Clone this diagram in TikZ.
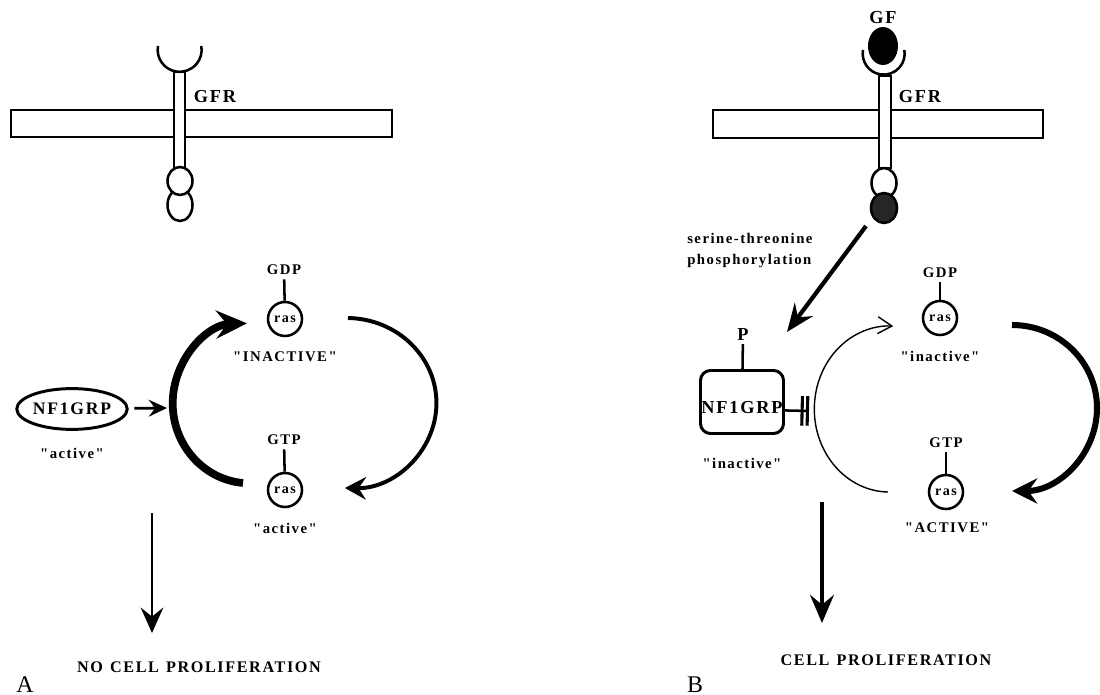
\documentclass[tikz,border=0pt]{standalone}
\usepackage{fontspec}
\setmainfont{Liberation Serif}
\newfontfamily\lblfont{Liberation Serif}[LetterSpace=10]
\usetikzlibrary{arrows.meta,shapes.geometric}

\begin{document}
\begin{tikzpicture}[
  x=0.025cm, y=-0.025cm,
  lbl/.style={font=\lblfont\bfseries\fontsize{10.5}{11}\selectfont, inner sep=0pt},
  big/.style={font=\lblfont\bfseries\fontsize{13}{14}\selectfont, inner sep=0pt},
  res/.style={font=\lblfont\bfseries\fontsize{11.5}{12}\selectfont, inner sep=0pt},
  panel/.style={font=\fontsize{17}{18}\selectfont, inner sep=0pt},
  ras/.style={circle, draw, line width=1.8pt, minimum size=0.85cm, inner sep=0pt,
    font=\lblfont\bfseries\fontsize{10}{11}\selectfont},
  memb/.style={draw, fill=white, line width=1.8pt},
  stem/.style={draw, fill=white, line width=1.6pt},
  stub/.style={line width=1.8pt, shorten <=3pt},
  tipS/.style 2 args={-{Stealth[length=#1, width=#2, inset=0.35*#1]}}
]
\useasboundingbox (0,0) rectangle (1100,695);

% ---------------- A ----------------
\draw[memb] (11,110) rectangle (392,137);
\draw[stem] (174,72) rectangle (185,168);
\draw[line width=1.8pt] (158,46) arc[start angle=190, end angle=-10, radius=22];
\draw[line width=1.8pt, fill=white] (180,205) ellipse[x radius=12.5, y radius=16];
\draw[line width=1.8pt, fill=white] (180,181) ellipse[x radius=12.5, y radius=14];
\node[big] (gfrA) at (215,97) {GFR};

\node[lbl] (gdpA) at (284,270) {GDP};
\node[ras] (rasIA) at (285,319) {ras};
\node[lbl] (inA) at (285,357) {"INACTIVE"};
\node[lbl] (gtpA) at (284,440) {GTP};
\node[ras] (rasAA) at (285,490) {ras};
\node[lbl] (acA) at (285,528) {"active"};
\draw[stub] (gdpA) -- (rasIA);
\draw[stub] (gtpA) -- (rasAA);

\node[ellipse, draw, line width=2.1pt, minimum width=2.75cm, minimum height=1.02cm,
  inner sep=0pt, font=\lblfont\bfseries\fontsize{12.5}{13}\selectfont] (nfA) at (72,409) {NF1GRP};
\node[lbl] (nfAl) at (72,453) {"active"};
\coordinate (gapA) at (167,408);
\draw[line width=2pt, tipS={13pt}{12pt}, shorten <=4pt] (nfA) -- (gapA);

\coordinate (c1A) at (243,483);
\coordinate (c2A) at (348,318);
\draw[line width=5.5pt, tipS={22pt}{20pt}] (c1A) arc[start angle=95, end angle=268, x radius=77, y radius=80];
\draw[line width=2.8pt, tipS={15pt}{16pt}] (c2A) arc[start angle=-89, end angle=91, x radius=90, y radius=85];

\coordinate (dA1) at (152,513);
\coordinate (dA2) at (152,633);
\draw[line width=2pt, tipS={18pt}{16pt}] (dA1) -- (dA2);
\node[res] (resA) at (199,667) {NO\hspace{5pt}CELL\hspace{5pt}PROLIFERATION};
\node[panel, anchor=base] (pA) at (25,692) {A};

% ---------------- B ----------------
\draw[memb] (713,110) rectangle (1043,138);
\draw[stem] (879,76) rectangle (891,168);
\fill (883,46) ellipse[x radius=15, y radius=19];
\draw[line width=1.8pt] (863,50) arc[start angle=190, end angle=-10, radius=21];
\draw[line width=1.8pt, fill=white] (884,183) ellipse[x radius=12.5, y radius=15];
\draw[line width=1.8pt, fill=black!85] (884,208) ellipse[x radius=13, y radius=15];
\node[big] (gfB) at (883,18) {GF};
\node[big] (gfrB) at (920,97) {GFR};

\node[lbl, align=left, anchor=north west, font=\lblfont\bfseries\fontsize{10.5}{15}\selectfont]
  (phos) at (687,233) {serine-threonine\\phosphorylation};
\coordinate (kin) at (866,226);
\coordinate (kinT) at (787,332);
\draw[line width=3pt, tipS={20pt}{16pt}] (kin) -- (kinT);

\node[big] (pB) at (743,335) {P};
\node[draw, rounded corners=0.25cm, line width=2.1pt, minimum width=2.075cm, minimum height=1.575cm,
  inner sep=0pt] (nfB) at (742,402) {};
\node[font=\lblfont\bfseries\fontsize{13}{14}\selectfont, inner sep=0pt] (nfBt) at (742,408) {NF1GRP};
\node[lbl] (nfBl) at (742,463) {"inactive"};
\draw[line width=1.8pt, shorten <=2pt] (pB) -- (nfB);
\coordinate (barB) at (809,411);
\draw[line width=1.8pt, -{Bar[width=21pt, line width=2.2pt, sep=1.6pt]Bar[width=21pt, line width=2.2pt]}]
  ([yshift=-6pt]nfB.east) -- (barB);

\node[lbl] (gdpB) at (940,273) {GDP};
\node[ras] (rasIB) at (940,318) {ras};
\node[lbl] (inB) at (940,356) {"inactive"};
\node[lbl] (gtpB) at (946,443) {GTP};
\node[ras] (rasAB) at (946,492) {ras};
\node[lbl] (acB) at (947,528) {"ACTIVE"};
\draw[stub] (gdpB) -- (rasIB);
\draw[stub] (gtpB) -- (rasAB);

\coordinate (c1B) at (888,492);
\coordinate (c2B) at (1012,325);
\draw[line width=1pt, -{Straight Barb[length=10pt, width=12pt]}] (c1B) arc[start angle=91, end angle=273, x radius=75, y radius=83];
\draw[line width=4.3pt, tipS={18pt}{18pt}] (c2B) arc[start angle=-90, end angle=90, x radius=85, y radius=83];

\coordinate (dB1) at (822,502);
\coordinate (dB2) at (822,623);
\draw[line width=2.8pt, tipS={20pt}{17pt}] (dB1) -- (dB2);
\node[res] (resB) at (886,660) {CELL\hspace{5pt}PROLIFERATION};
\node[panel, anchor=base] (pBl) at (695,692) {B};
\end{tikzpicture}
\end{document}
